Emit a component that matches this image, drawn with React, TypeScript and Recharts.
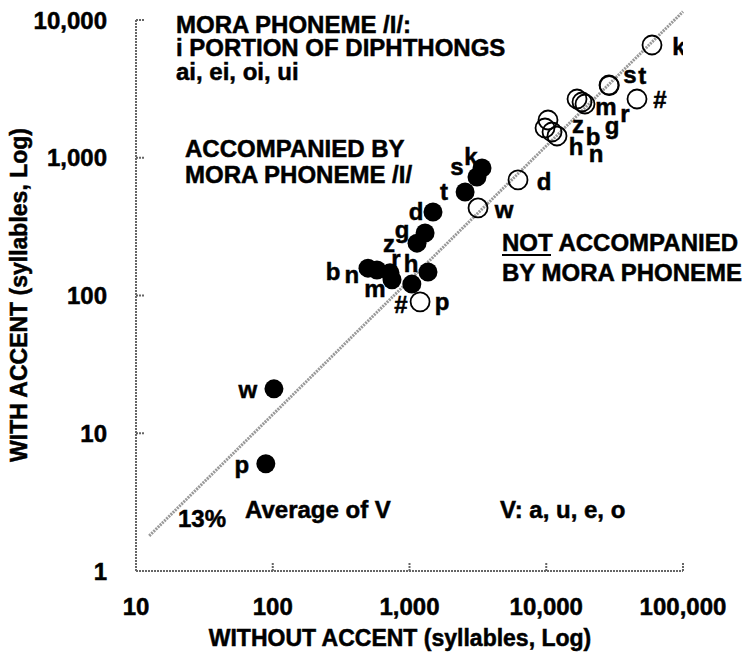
import { ScatterChart, Scatter, XAxis, YAxis, ReferenceLine } from "recharts"

const FONT = "'Liberation Sans', Arial, sans-serif"

// accompanied by mora phoneme /I/ (filled circles)
const withIConsonants = ["p", "w", "b", "n", "r", "m", "#", "h", "z", "g", "d", "t", "s", "k"]
const withIWithout = [89, 102, 497, 578, 720, 745, 1040, 1365, 1135, 1300, 1485, 2550, 3115, 3390]
const withIWith = [6, 21, 158, 153, 146, 130, 121, 148, 240, 284, 404, 564, 725, 843]

// not accompanied by mora phoneme (open circles)
const noIConsonants = ["p", "w", "d", "h", "z", "b", "n", "g", "m", "r", "s", "t", "#", "k"]
const noIWithout = [1195, 3170, 6215, 9795, 10300, 11020, 11985, 16790, 18260, 19200, 28760, 28900, 46090, 59340]
const noIWith = [90, 432, 690, 1644, 1880, 1538, 1439, 2670, 2540, 2455, 3375, 3340, 2670, 6585]

// average of V (13%) guide line
const averageLine = [
  { x: 12.5, y: 1.8 },
  { x: 100000, y: 11500 },
]

const xTicks = [10, 100, 1000, 10000, 100000]
const yTicks = [1, 10, 100, 1000, 10000]

const withIData = withIConsonants.map((c, i) => ({ label: c, x: withIWithout[i], y: withIWith[i] }))
const noIData = noIConsonants.map((c, i) => ({ label: c, x: noIWithout[i], y: noIWith[i] }))

// label placement next to each circle: [dx, dy baseline]
const withIOffsets: Record<string, number[]> = {
  p: [-24, 9], w: [-26, 9], b: [-35, 12], n: [-25, 13], r: [6, -6], m: [-17, 17], "#": [-11, 29],
  h: [-17, 0], z: [-28, 9], g: [-23, 5], d: [-17, 8], t: [-21, 8], s: [-20, -2], k: [-11, -3],
}
const noIOffsets: Record<string, number[]> = {
  p: [22, 8], w: [26, 10], d: [26, 10], h: [31, 27], z: [30, 13], b: [41, 13], n: [39, 26],
  g: [35, 35], m: [24, 13], r: [40, 18], s: [21, -2], t: [33, -2], "#": [23, 9], k: [27, 10],
}

const fmt = (v: number) => v.toLocaleString("en-US")

const txt = {
  fontSize: 24,
  fontWeight: "bold",
  fontFamily: FONT,
  fill: "#000",
  stroke: "#000",
  strokeWidth: 0.5,
}

function makeDot(filled: boolean, offsets: Record<string, number[]>) {
  return (props: any) => {
    const { cx, cy, payload } = props
    const [dx, dy] = offsets[payload.label] || [14, 0]
    return (
      <g>
        <circle cx={cx} cy={cy} r={9.5} fill={filled ? "#000" : "none"} stroke="#000" strokeWidth={filled ? 0 : 1.8} />
        <text {...txt} x={cx + dx} y={cy + dy} textAnchor="middle">
          {payload.label}
        </text>
      </g>
    )
  }
}

const axisStyle = { stroke: "#666", strokeWidth: 2, strokeDasharray: "2 1" }
const tickStyle = { ...txt }

export default function App() {
  return (
    <div style={{ position: "absolute", left: 0, top: 0, width: 745, height: 659, background: "#fff" }}>
      <ScatterChart width={745} height={659} margin={{ top: 20, right: 62, left: 0, bottom: 0 }}>
        <XAxis
          type="number"
          dataKey="x"
          scale="log"
          domain={[10, 100000]}
          allowDataOverflow
          ticks={xTicks}
          tickFormatter={fmt}
          height={88}
          axisLine={axisStyle}
          tickLine={axisStyle}
          tickSize={-8}
          tickMargin={35}
          tick={tickStyle}
        />
        <YAxis
          type="number"
          dataKey="y"
          scale="log"
          domain={[1, 10000]}
          allowDataOverflow
          ticks={yTicks}
          tickFormatter={fmt}
          width={136}
          axisLine={axisStyle}
          tickLine={axisStyle}
          tickSize={-8}
          tickMargin={37}
          tick={tickStyle}
        />
        <ReferenceLine
          segment={averageLine}
          ifOverflow="visible"
          stroke="#999"
          strokeWidth={3}
          strokeDasharray="2 1"
        />
        <Scatter data={withIData} shape={makeDot(true, withIOffsets)} isAnimationActive={false} />
        <Scatter data={noIData} shape={makeDot(false, noIOffsets)} isAnimationActive={false} />
      </ScatterChart>
      <svg width={745} height={659} style={{ position: "absolute", left: 0, top: 0, pointerEvents: "none" }}>
        <text {...txt} x={176} y={33}>MORA PHONEME /I/:</text>
        <text {...txt} x={176} y={56}>i PORTION OF DIPHTHONGS</text>
        <text {...txt} x={176} y={80}>ai, ei, oi, ui</text>
        <text {...txt} x={185} y={157}>ACCOMPANIED BY</text>
        <text {...txt} x={185} y={183}>MORA PHONEME /I/</text>
        <text {...txt} x={502} y={251}>NOT ACCOMPANIED</text>
        <line x1={502} x2={551} y1={255} y2={255} stroke="#000" strokeWidth={2} />
        <text {...txt} x={502} y={281}>BY MORA PHONEME</text>
        <text {...txt} x={178} y={527}>13%</text>
        <text {...txt} x={245} y={518}>Average of V</text>
        <text {...txt} x={500} y={518}>V: a, u, e, o</text>
        <text {...txt} fontSize={23} x={400} y={646} textAnchor="middle">WITHOUT ACCENT (syllables, Log)</text>
        <text {...txt} fontSize={23} x={-295} y={27} textAnchor="middle" transform="rotate(-90)">
          WITH ACCENT (syllables, Log)
        </text>
      </svg>
    </div>
  )
}
